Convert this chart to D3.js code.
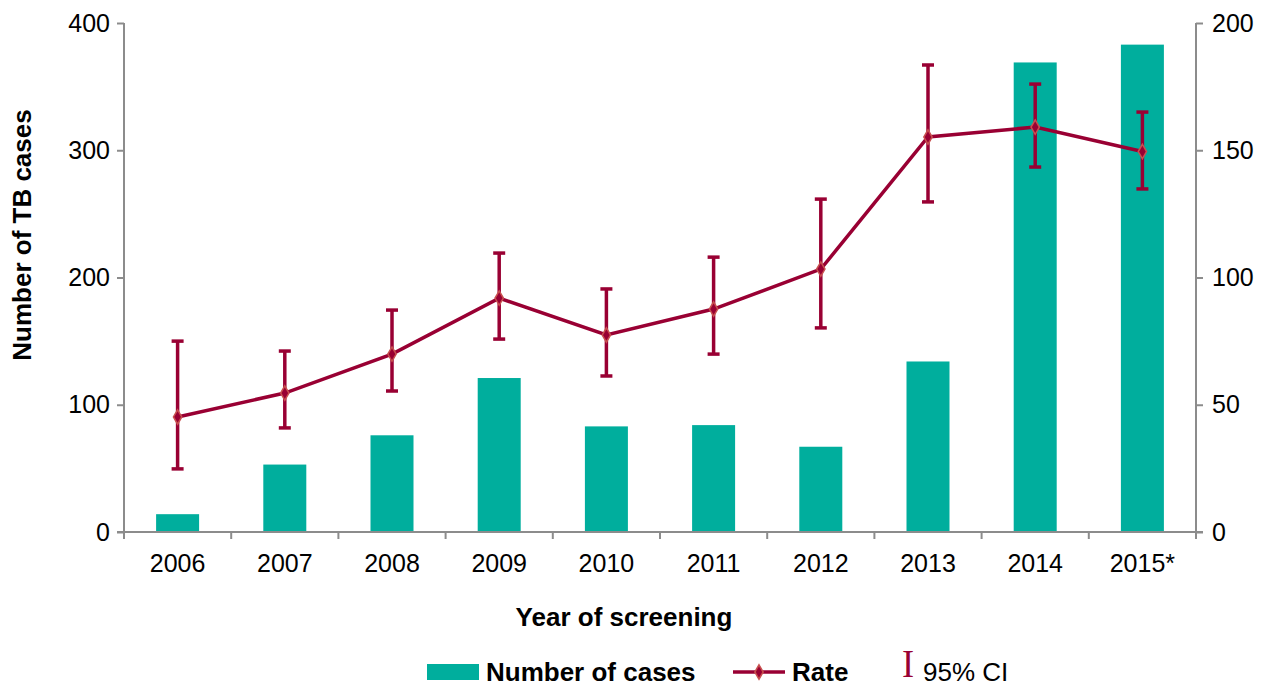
<!DOCTYPE html>
<html><head><meta charset="utf-8">
<script src="https://cdn.jsdelivr.net/npm/d3@7"></script>
<style>body{margin:0;background:#fff}svg{display:block}text{font-family:"Liberation Sans",Arial,sans-serif}</style>
</head><body><svg id="c" width="1274" height="686"></svg>
<script>
const years = ["2006","2007","2008","2009","2010","2011","2012","2013","2014","2015*"];
const cases = [14,53,76,121,83,84,67,134,369,383];
const rate = [45.2,54.6,69.9,91.9,77.4,87.6,103.3,155.2,159.1,149.5];
const rateLow = [24.8,40.9,55.4,75.8,61.3,69.9,80.2,129.7,143.4,134.8];
const rateHigh = [75,71.1,87.2,109.6,95.5,108,130.8,183.5,176,165];
const leftTicks = [0,100,200,300,400];
const rightTicks = [0,50,100,150,200];

const svg = d3.select("#c");
const L=124, R=1196, T=23, B=532;
const teal="#00AE9D", crimson="#990033", grey="#8C8C8C";
const xb = d3.scaleBand().domain(years).range([L,R]);
const yL = d3.scaleLinear().domain([0,400]).range([B,T]);
const yR = d3.scaleLinear().domain([0,200]).range([B,T]);

// bars
svg.append("g").selectAll("rect").data(years).join("rect")
  .attr("x",d=>xb(d)+xb.bandwidth()/2-21.5).attr("width",43)
  .attr("y",(d,i)=>yL(cases[i])).attr("height",(d,i)=>B-yL(cases[i]))
  .attr("fill",teal);

// axes
const fs=25;
const gl = svg.append("g").attr("transform",`translate(${L},0)`)
  .call(d3.axisLeft(yL).tickValues(leftTicks).tickSize(7).tickPadding(7));
const gr = svg.append("g").attr("transform",`translate(${R},0)`)
  .call(d3.axisRight(yR).tickValues(rightTicks).tickSize(7).tickPadding(9));
[gl,gr].forEach(g=>{
  g.select(".domain").attr("stroke",grey).attr("stroke-width",2).attr("d",`M0,${T}V${B}`);
  g.selectAll(".tick line").attr("stroke",grey).attr("stroke-width",2);
  g.selectAll(".tick text").attr("font-size",fs).attr("fill","#000").style("font-family","Liberation Sans, Arial");
});
// x axis
const gx = svg.append("g").attr("transform",`translate(0,${B})`);
gx.append("line").attr("x1",L-7).attr("x2",R+7).attr("y1",0).attr("y2",0).attr("stroke",grey).attr("stroke-width",2);
gx.selectAll("line.tk").data(years.slice(1)).join("line").attr("class","tk")
  .attr("x1",d=>xb(d)).attr("x2",d=>xb(d)).attr("y1",0).attr("y2",7).attr("stroke",grey).attr("stroke-width",2);
gx.append("line").attr("x1",L).attr("x2",L).attr("y1",0).attr("y2",7).attr("stroke",grey).attr("stroke-width",2);
gx.append("line").attr("x1",R).attr("x2",R).attr("y1",0).attr("y2",7).attr("stroke",grey).attr("stroke-width",2);
gx.selectAll("text").data(years).join("text")
  .attr("x",d=>xb(d)+xb.bandwidth()/2).attr("y",40).attr("text-anchor","middle")
  .attr("font-size",fs).text(d=>d);

// titles
svg.append("text").attr("transform","translate(31,235) rotate(-90)").attr("text-anchor","middle")
  .attr("font-size",26).attr("font-weight","bold").text("Number of TB cases");
svg.append("text").attr("x",624).attr("y",626).attr("text-anchor","middle")
  .attr("font-size",26).attr("font-weight","bold").text("Year of screening");

// error bars
const cx = d=>xb(d)+xb.bandwidth()/2;
const eb = svg.append("g").attr("stroke",crimson).attr("stroke-width",3.5);
years.forEach((d,i)=>{
  eb.append("line").attr("x1",cx(d)).attr("x2",cx(d)).attr("y1",yR(rateLow[i])).attr("y2",yR(rateHigh[i]));
  eb.append("line").attr("x1",cx(d)-6).attr("x2",cx(d)+6).attr("y1",yR(rateLow[i])).attr("y2",yR(rateLow[i]));
  eb.append("line").attr("x1",cx(d)-6).attr("x2",cx(d)+6).attr("y1",yR(rateHigh[i])).attr("y2",yR(rateHigh[i]));
});
// line
svg.append("path").datum(years).attr("fill","none").attr("stroke",crimson).attr("stroke-width",3.5)
  .attr("d",d3.line().x(cx).y((d,i)=>yR(rate[i])));
const diamond = d3.symbol().type(d3.symbolDiamond).size(60);
svg.append("g").selectAll("path").data(years).join("path")
  .attr("transform",(d,i)=>`translate(${cx(d)},${yR(rate[i])})`)
  .attr("d",diamond).attr("fill",crimson).attr("stroke","#C8504F").attr("stroke-width",1.5);

// legend
const lg = svg.append("g");
lg.append("rect").attr("x",427).attr("y",664).attr("width",52).attr("height",16).attr("fill",teal);
lg.append("text").attr("x",486).attr("y",681).attr("font-size",26).attr("font-weight","bold").text("Number of cases");
lg.append("line").attr("x1",733).attr("x2",785).attr("y1",672).attr("y2",672).attr("stroke",crimson).attr("stroke-width",3.5);
lg.append("path").attr("transform","translate(759,672)").attr("d",diamond).attr("fill",crimson).attr("stroke","#C8504F").attr("stroke-width",1.5);
lg.append("text").attr("x",792).attr("y",681).attr("font-size",26).attr("font-weight","bold").text("Rate");
lg.append("text").attr("transform","translate(902,677) scale(1.25,1.35)").attr("font-size",29).attr("fill",crimson)
  .style("font-family","Liberation Serif, Times New Roman, serif").text("I");
lg.append("text").attr("x",923).attr("y",681).attr("font-size",26).text("95% CI");
</script></body></html>
